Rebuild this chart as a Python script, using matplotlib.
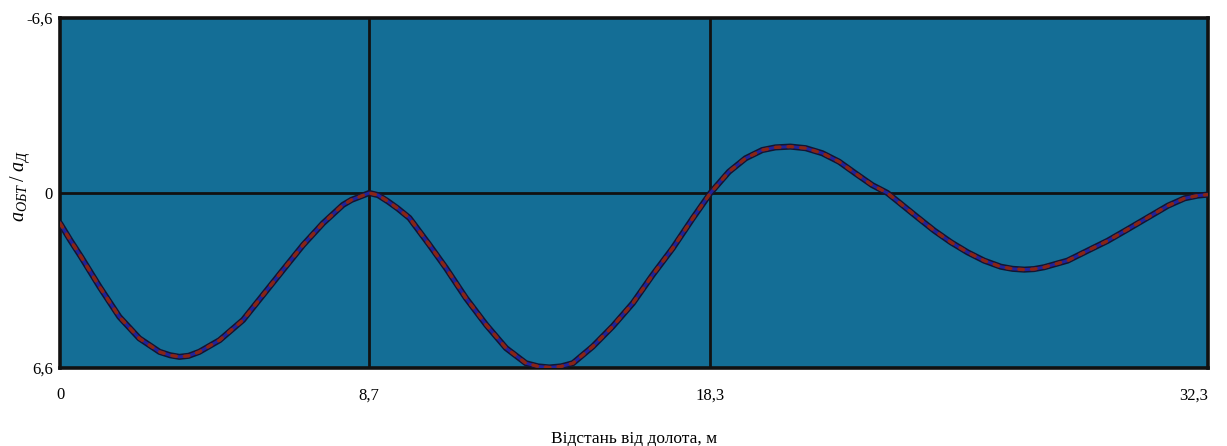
import matplotlib
matplotlib.use("Agg")
import matplotlib.pyplot as plt

# data
x_vals = [0.0, 0.30, 0.59, 1.11, 1.67, 2.23, 2.80, 3.10, 3.36, 3.62, 3.92, 4.49, 5.15,
          5.71, 6.27, 6.84, 7.40, 7.96, 8.20, 8.43, 8.7,
          8.95, 9.22, 9.50, 9.83, 10.39, 10.86, 11.42, 11.99, 12.55, 13.11, 13.45,
          13.77, 14.10, 14.43, 14.99, 15.55, 16.12, 16.68, 17.24, 17.81, 18.3,
          18.82, 19.29, 19.76, 20.13, 20.55, 20.98, 21.45, 21.92, 22.38, 22.85, 23.28,
          23.66, 24.13, 24.6, 25.07, 25.54, 26.0, 26.47, 26.80, 27.13, 27.40, 27.69,
          28.35, 28.92, 29.48, 30.05, 30.61, 31.17, 31.64, 32.0, 32.3]
y_vals = [1.14, 1.80, 2.40, 3.53, 4.67, 5.48, 5.99, 6.12, 6.18, 6.14, 5.99, 5.55, 4.79,
          3.85, 2.91, 1.96, 1.14, 0.45, 0.26, 0.14, 0.0,
          0.08, 0.31, 0.58, 0.94, 1.95, 2.83, 3.96, 4.97, 5.85, 6.42, 6.54,
          6.58, 6.54, 6.42, 5.79, 5.03, 4.15, 3.08, 2.08, 0.94, 0.0,
          -0.80, -1.31, -1.62, -1.72, -1.75, -1.69, -1.50, -1.18, -0.74, -0.30, 0.0,
          0.41, 0.92, 1.42, 1.86, 2.24, 2.55, 2.78, 2.86, 2.89, 2.87, 2.80,
          2.55, 2.17, 1.80, 1.36, 0.92, 0.48, 0.20, 0.10, 0.06]
x_ticks = [0, 8.7, 18.3, 32.3]
x_tick_labels = ["0", "8,7", "18,3", "32,3"]
y_ticks = [-6.6, 0, 6.6]
y_tick_labels = ["-6,6", "0", "6,6"]
x_grid = [8.7, 18.3]
y_grid = [0]

plt.rcParams['font.family'] = ['Liberation Serif', 'DejaVu Serif']
plt.rcParams['mathtext.fontset'] = 'custom'
plt.rcParams['mathtext.rm'] = 'Liberation Serif'
plt.rcParams['mathtext.it'] = 'Liberation Serif:italic'

fig = plt.figure(figsize=(12.27, 4.46), dpi=100)
ax = fig.add_axes([60/1227, 1-368/446, (1208-60)/1227, (368-18)/446])
ax.set_facecolor('#146e96')

ax.set_xlim(0, 32.3)
ax.set_ylim(6.6, -6.6)

for gx in x_grid:
    ax.axvline(gx, color='#111111', lw=2.0, zorder=1)
for gy in y_grid:
    ax.axhline(gy, color='#111111', lw=2.0, zorder=1)

ax.plot(x_vals, y_vals, color='#141430', lw=4.4, solid_capstyle='round',
        solid_joinstyle='round', zorder=3)
ax.plot(x_vals, y_vals, color='#22229a', lw=2.2, solid_joinstyle='round', zorder=4)
ax.plot(x_vals, y_vals, color='#8a2414', lw=2.4, linestyle=(0, (1.4, 2.4)),
        dash_capstyle='round', zorder=5)

for s in ax.spines.values():
    s.set_linewidth(2.6)
    s.set_color('#111111')

ax.set_xticks(x_ticks)
ax.set_xticklabels(x_tick_labels)
ax.set_yticks(y_ticks)
ax.set_yticklabels(y_tick_labels)
ax.tick_params(axis='both', length=0, labelsize=12)
ax.tick_params(axis='x', pad=14)
ax.tick_params(axis='y', pad=5)
ax.get_xticklabels()[-1].set_horizontalalignment('right')

ax.set_xlabel("Відстань від долота, м", fontsize=12.5, labelpad=20)
ax.set_ylabel(r"$\mathit{a}_{\mathit{ОБТ}}\;/\;\mathit{a}_{\mathit{Д}}$", fontsize=14.5)
ax.yaxis.set_label_coords(-28/1148, 0.52)

fig.savefig("out.png", dpi=100, facecolor='white')
